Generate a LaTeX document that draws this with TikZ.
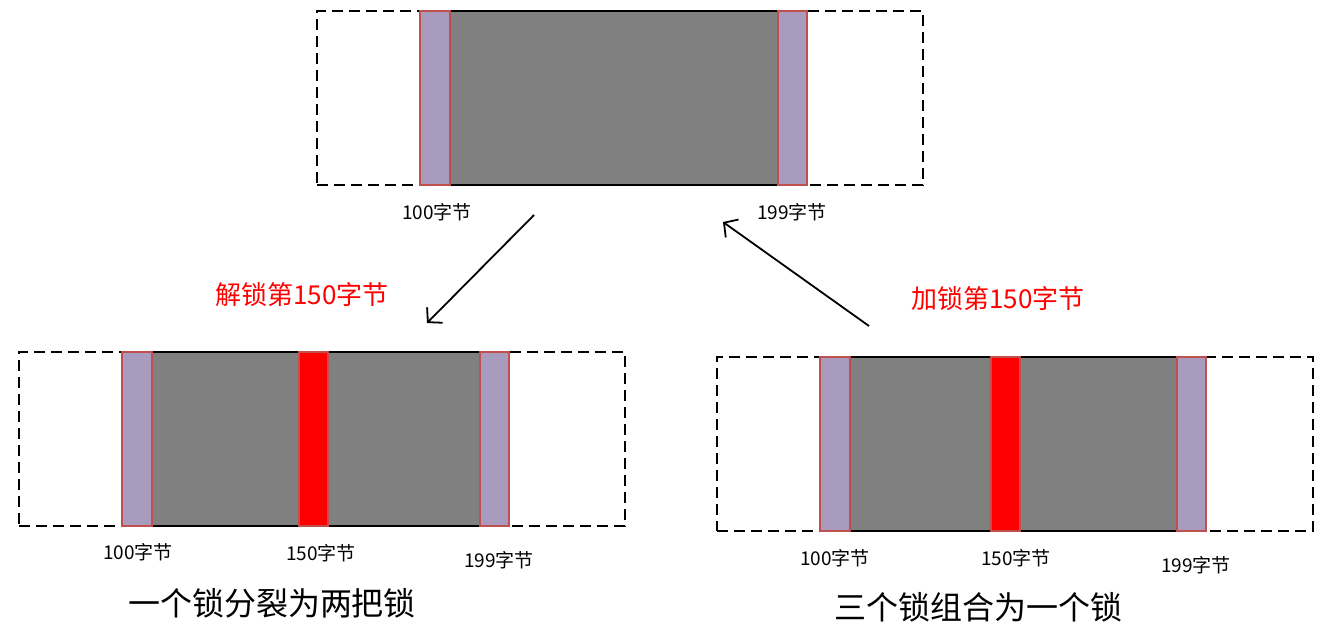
\documentclass[tikz,border=0pt]{standalone}
\usepackage{fontspec}
\newfontfamily\cjk{Noto Sans CJK SC}
\usetikzlibrary{arrows.meta, positioning}

\definecolor{lockgray}{RGB}{128,128,128}
\definecolor{lockpurple}{RGB}{169,155,189}
\definecolor{lockedge}{RGB}{192,80,77}

\begin{document}
\begin{tikzpicture}[
    x=1pt, y=-1pt,
    every node/.style={font=\cjk, inner sep=0pt, outer sep=0pt},
    frame/.style={rectangle, draw, line width=2pt, dash pattern=on 11pt off 6pt, anchor=north west, minimum height=174pt},
    block/.style={rectangle, draw=black, line width=2pt, fill=lockgray, anchor=north west, minimum height=174pt},
    endbar/.style={rectangle, draw=lockedge, line width=1.5pt, fill=lockpurple, anchor=north west, minimum width=30pt, minimum height=174pt},
    midbar/.style={rectangle, draw=lockedge, line width=1.5pt, fill=red, anchor=north west, minimum width=29pt, minimum height=174pt},
    bytelabel/.style={font=\cjk\fontsize{19}{22}\selectfont},
    oplabel/.style={font=\cjk\fontsize{26}{30}\selectfont, text=red},
    caption/.style={font=\cjk\fontsize{32}{37}\selectfont},
    arrow/.style={-{Straight Barb[length=10pt, width=22pt]}, line width=1.8pt}
]
\useasboundingbox (0,0) rectangle (1334,629);

% ============ TOP: one lock 100-199 ============
\node[frame, minimum width=606pt] (topframe) at (317,11) {};
\node[block, minimum width=387pt] (topblock) at (420,11) {};
\node[endbar] (topleft) at (420,11) {};
\node[endbar, minimum width=29pt] (topright) at (778,11) {};

\node[bytelabel] (top100) at (437,212) {100字节};
\node[bytelabel] (top199) at (792,212) {199字节};

% ============ LEFT: unlock splits the lock ============
\node[frame, minimum width=606pt] (leftframe) at (19,352) {};
\node[block, minimum width=387pt] (leftblock) at (122,352) {};
\node[endbar] (leftleft) at (122,352) {};
\node[midbar] (leftmid) at (299,352) {};
\node[endbar, minimum width=29pt] (leftright) at (480,352) {};

\node[bytelabel] (left100) at (138,552) {100字节};
\node[bytelabel] (left150) at (321,553) {150字节};
\node[bytelabel] (left199) at (499,560) {199字节};
\node[caption] (leftcap) at (272,603) {一个锁分裂为两把锁};

% ============ RIGHT: lock merges three locks ============
\node[frame, minimum width=596pt] (rightframe) at (717,357) {};
\node[block, minimum width=386pt] (rightblock) at (820,357) {};
\node[endbar] (rightleft) at (820,357) {};
\node[midbar] (rightmid) at (991,357) {};
\node[endbar, minimum width=29pt] (rightright) at (1177,357) {};

\node[bytelabel] (right100) at (835,558) {100字节};
\node[bytelabel] (right150) at (1016,558) {150字节};
\node[bytelabel] (right199) at (1196,565) {199字节};
\node[caption] (rightcap) at (978,607) {三个锁组合为一个锁};

% ============ ARROWS ============
\coordinate (unlockfrom) at (534,215);
\coordinate (unlockto) at (427,323);
\coordinate (lockfrom) at (869,326);
\coordinate (lockto) at (723,222);

\draw[arrow] (unlockfrom) -- (unlockto);
\draw[arrow] (lockfrom) -- (lockto);

\node[oplabel] (unlocklabel) at (302,295) {解锁第150字节};
\node[oplabel] (locklabel) at (998,299) {加锁第150字节};

\end{tikzpicture}
\end{document}
